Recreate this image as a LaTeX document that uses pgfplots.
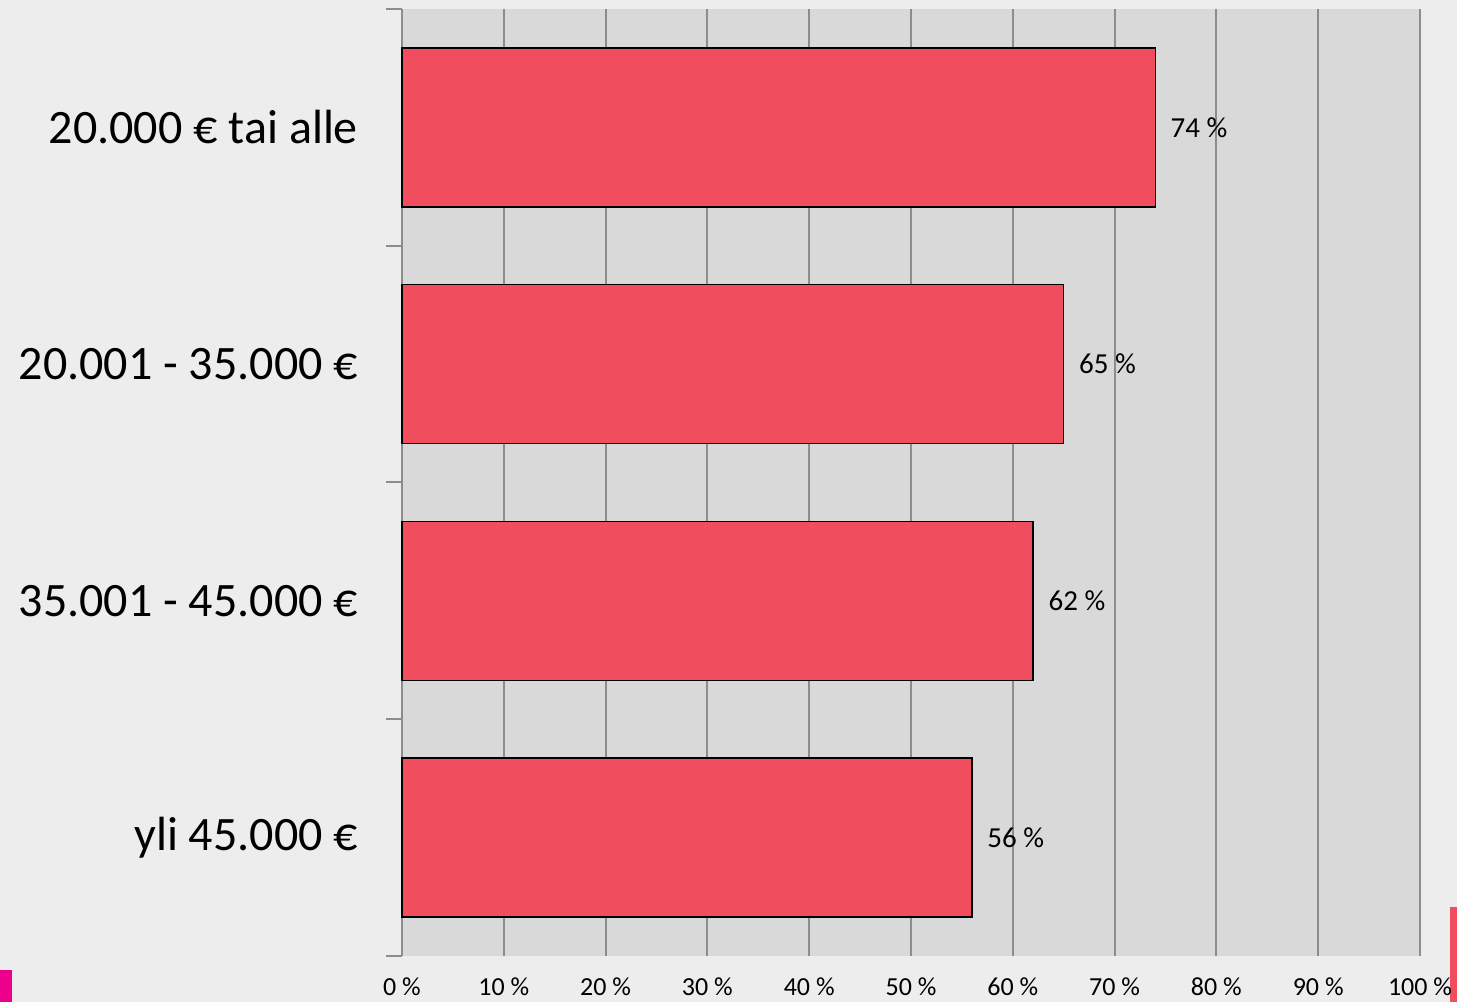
\documentclass[border=0pt]{standalone}
\usepackage{fontspec}
\setmainfont{Carlito}
\usepackage{pgfplots}
\pgfplotsset{compat=1.18}
\definecolor{bg}{HTML}{EDEDEE}
\definecolor{plotbg}{HTML}{D9D9D9}
\definecolor{gridc}{HTML}{8C8C8C}
\definecolor{barc}{HTML}{F04E5E}
\definecolor{pinkc}{HTML}{EC008C}
\begin{document}
\begin{tikzpicture}
% page background, 0.5pt per reference pixel
\fill[bg] (-201pt,-23pt) rectangle (527.5pt,478pt);
\useasboundingbox (-201pt,-23pt) rectangle (527.5pt,478pt);
\fill[pinkc] (-201pt,-23pt) rectangle (-195pt,-7pt);
\fill[barc] (524pt,-23pt) rectangle (527.5pt,24.5pt);
\begin{axis}[
  at={(0,0)}, anchor=south west,
  scale only axis, width=509pt, height=473.5pt,
  xbar, bar width=79.5pt,
  xmin=0, xmax=100, ymin=-0.5, ymax=3.5,
  axis background/.style={fill=plotbg},
  axis x line=bottom, axis y line=left,
  x axis line style={draw=none},
  y axis line style={gridc, line width=1pt, -},
  xtick={0,10,...,100},
  xmajorgrids, major grid style={gridc, line width=1pt},
  major tick length=0pt,
  xticklabel={\pgfmathprintnumber[assume math mode=true]{\tick} \%},
  xticklabel style={font=\fontsize{13}{15}\selectfont, inner sep=0.5pt, yshift=-10pt},
  ytick={0,1,2,3},
  yticklabels={yli 45.000 €, 35.001 - 45.000 €, 20.001 - 35.000 €, 20.000 € tai alle},
  minor ytick={-0.5,0.5,1.5,2.5,3.5},
  minor tick length=8pt, tick align=outside,
  minor tick style={gridc, line width=1pt},
  yticklabel style={font=\fontsize{24}{28}\selectfont, xshift=-18.5pt},
  point meta=x,
  nodes near coords={\pgfmathprintnumber[assume math mode=true]{\pgfplotspointmeta} \%},
  every node near coord/.style={font=\fontsize{14.5}{17}\selectfont, black, xshift=4pt},
  clip=false,
]
\addplot[fill=barc, draw=black, line width=0.75pt] coordinates {(56,0) (62,1) (65,2) (74,3)};
\end{axis}
\end{tikzpicture}
\end{document}
